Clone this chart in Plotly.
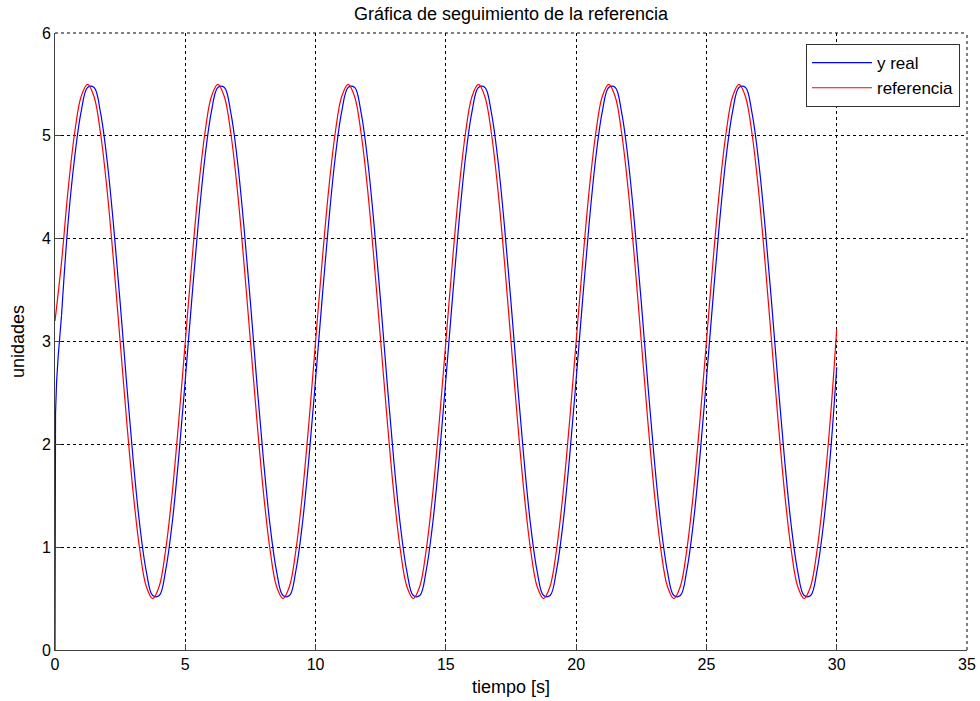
import numpy as np
import plotly.graph_objects as go

# sample grid (s)
t_grid = [round(0.25 * k, 2) for k in range(121)]

# referencia, read every 0.25 s
referencia = [
    3.20, 3.77, 4.47, 5.02, 5.38, 5.50, 5.38, 5.02, 4.47, 3.77, 3.00, 2.23, 1.53, 0.98, 0.62, 0.50, 0.62, 0.98, 1.53, 2.23,
    3.00, 3.77, 4.47, 5.02, 5.38, 5.50, 5.38, 5.02, 4.47, 3.77, 3.00, 2.23, 1.53, 0.98, 0.62, 0.50, 0.62, 0.98, 1.53, 2.23,
    3.00, 3.77, 4.47, 5.02, 5.38, 5.50, 5.38, 5.02, 4.47, 3.77, 3.00, 2.23, 1.53, 0.98, 0.62, 0.50, 0.62, 0.98, 1.53, 2.23,
    3.00, 3.77, 4.47, 5.02, 5.38, 5.50, 5.38, 5.02, 4.47, 3.77, 3.00, 2.23, 1.53, 0.98, 0.62, 0.50, 0.62, 0.98, 1.53, 2.23,
    3.00, 3.77, 4.47, 5.02, 5.38, 5.50, 5.38, 5.02, 4.47, 3.77, 3.00, 2.23, 1.53, 0.98, 0.62, 0.50, 0.62, 0.98, 1.53, 2.23,
    3.00, 3.77, 4.47, 5.02, 5.38, 5.50, 5.38, 5.02, 4.47, 3.77, 3.00, 2.23, 1.53, 0.98, 0.62, 0.50, 0.62, 0.98, 1.53, 2.23,
    3.12,
]

# y real: start-up transient, then every 0.25 s from 0.25 s
t_start = [0.0, 0.005, 0.02, 0.06, 0.12]
y_start = [0.0, 1.70, 2.30, 2.60, 2.85]

t_real_main = t_grid[1:]
y_real_main = [
    3.25, 4.15, 4.78, 5.23, 5.47, 5.47, 5.22, 4.76, 4.12, 3.38, 2.59, 1.85, 1.22, 0.77, 0.53, 0.53, 0.78, 1.24, 1.88,
    2.63, 3.41, 4.15, 4.78, 5.23, 5.47, 5.47, 5.22, 4.76, 4.12, 3.38, 2.59, 1.85, 1.22, 0.77, 0.53, 0.53, 0.78, 1.24, 1.88,
    2.63, 3.41, 4.15, 4.78, 5.23, 5.47, 5.47, 5.22, 4.76, 4.12, 3.38, 2.59, 1.85, 1.22, 0.77, 0.53, 0.53, 0.78, 1.24, 1.88,
    2.63, 3.41, 4.15, 4.78, 5.23, 5.47, 5.47, 5.22, 4.76, 4.12, 3.38, 2.59, 1.85, 1.22, 0.77, 0.53, 0.53, 0.78, 1.24, 1.88,
    2.63, 3.41, 4.15, 4.78, 5.23, 5.47, 5.47, 5.22, 4.76, 4.12, 3.38, 2.59, 1.85, 1.22, 0.77, 0.53, 0.53, 0.78, 1.24, 1.88,
    2.63, 3.41, 4.15, 4.78, 5.23, 5.47, 5.47, 5.22, 4.76, 4.12, 3.38, 2.59, 1.85, 1.22, 0.77, 0.53, 0.53, 0.78, 1.24, 1.88,
    2.75,
]

x_ticks = [0, 5, 10, 15, 20, 25, 30, 35]
y_ticks = [0, 1, 2, 3, 4, 5, 6]

FONT = "Liberation Sans, Arial, sans-serif"

fig = go.Figure()
fig.add_trace(go.Scatter(
    x=t_start + [t_real_main[0]], y=y_start + [y_real_main[0]],
    mode="lines", line=dict(color="#0000FF", width=1.2),
    showlegend=False, legendgroup="real", hoverinfo="skip",
))
fig.add_trace(go.Scatter(
    x=t_real_main, y=y_real_main, name="y real", legendgroup="real",
    mode="lines", line=dict(color="#0000FF", width=1.2, shape="spline", smoothing=1),
))
fig.add_trace(go.Scatter(
    x=t_grid, y=referencia, name="referencia",
    mode="lines", line=dict(color="#FF0000", width=1.2, shape="spline", smoothing=1),
))

axis_common = dict(
    showgrid=True, gridcolor="black", gridwidth=1, griddash="3px,3px",
    zeroline=False, showline=True, linecolor="#404040", linewidth=1,
    ticks="inside", ticklen=6, tickcolor="#404040", tickwidth=1,
    tickfont=dict(family=FONT, size=16, color="black"),
    mirror=False, automargin=False,
)

# dashed grid lines along the top and right edges of the axes box
for edge in (dict(x0=0, x1=1, y0=1, y1=1), dict(x0=1, x1=1, y0=0, y1=1)):
    fig.add_shape(type="line", xref="paper", yref="paper", **edge,
                  line=dict(color="black", width=1, dash="3px,3px"), layer="below")

fig.update_layout(
    width=980, height=701,
    margin=dict(l=55, r=13, t=33, b=51),
    paper_bgcolor="white", plot_bgcolor="white",
    title=dict(text="Gráfica de seguimiento de la referencia", xref="paper", x=0.5, xanchor="center",
               yref="container", y=1 - 14 / 701, yanchor="middle",
               font=dict(family=FONT, size=18, color="black"), automargin=False),
    xaxis=dict(range=[0, 35], tickvals=x_ticks, ticktext=[str(v) for v in x_ticks],
               title=dict(text="tiempo [s]", font=dict(family=FONT, size=18, color="black"), standoff=8),
               **axis_common),
    yaxis=dict(range=[0, 6], tickvals=y_ticks, ticktext=[str(v) for v in y_ticks],
               title=dict(text="unidades", font=dict(family=FONT, size=18, color="black"), standoff=12),
               **axis_common),
    legend=dict(x=0.9923, y=0.982, xanchor="right", yanchor="top",
                bgcolor="white", bordercolor="#333333", borderwidth=1,
                font=dict(family=FONT, size=17, color="black"),
                itemwidth=60, tracegroupgap=0),
    showlegend=True,
)

fig.write_html("out.html")
